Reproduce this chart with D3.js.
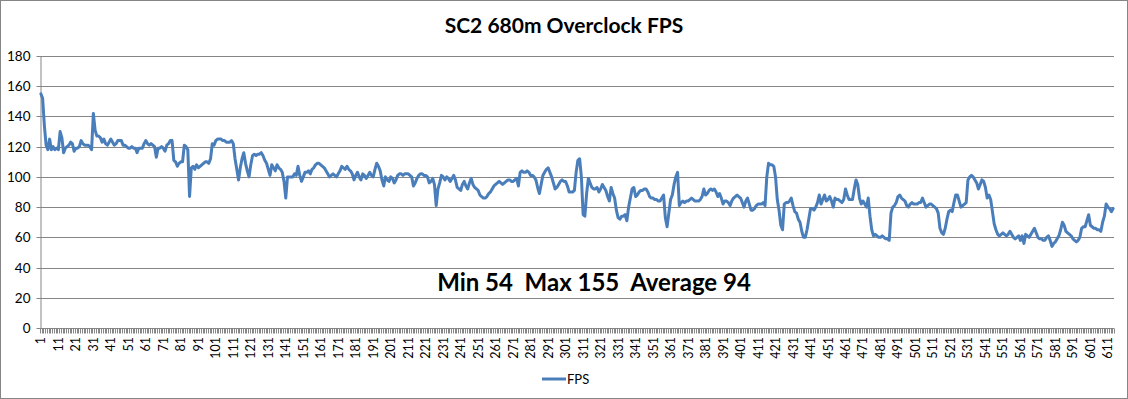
<!DOCTYPE html>
<html>
<head>
<meta charset="utf-8">
<script src="https://cdn.jsdelivr.net/npm/d3@7"></script>
<style>
  html, body { margin: 0; padding: 0; background: #fff; }
  svg { display: block; font-family: Lato, "Open Sans", sans-serif; }
</style>
</head>
<body>
<svg id="chart"></svg>
<script>
// FPS per sample
const fps = [
  155, 152, 134, 121, 118, 125, 118, 120, 118, 119,
  118, 130, 126, 116, 119, 120, 121, 123, 122, 117,
  119, 119, 120, 124, 122, 121, 121, 121, 120, 118,
  142, 131, 127, 127, 126, 123, 125, 122, 121, 123,
  125, 123, 121, 122, 124, 124, 124, 121, 121, 120,
  119, 119, 120, 119, 119, 116, 119, 119, 119, 122,
  124, 122, 121, 122, 121, 120, 113, 119, 119, 120,
  119, 117, 121, 122, 124, 124, 111, 110, 107, 109,
  110, 110, 121, 120, 118, 87, 106, 107, 105, 108,
  106, 107, 108, 109, 110, 110, 109, 112, 122, 121,
  124, 125, 125, 125, 124, 124, 123, 123, 123, 124,
  122, 112, 105, 98, 106, 112, 116, 109, 104, 100,
  108, 114, 115, 114, 115, 115, 116, 114, 111, 109,
  105, 101, 108, 106, 104, 108, 106, 105, 103, 97,
  86, 100, 100, 100, 100, 102, 101, 107, 101, 97,
  100, 103, 103, 104, 102, 105, 106, 108, 109, 109,
  108, 107, 106, 104, 102, 100, 101, 102, 101, 100,
  102, 104, 107, 106, 105, 107, 105, 104, 102, 98,
  101, 103, 100, 98, 102, 101, 99, 101, 103, 101,
  100, 105, 109, 107, 104, 98, 94, 100, 98, 97,
  100, 99, 96, 98, 101, 102, 102, 101, 102, 102,
  102, 101, 100, 94, 96, 99, 101, 102, 102, 101,
  101, 100, 96, 97, 99, 95, 81, 92, 96, 101,
  100, 98, 100, 99, 97, 99, 101, 98, 93, 92,
  91, 95, 97, 94, 92, 96, 99, 95, 93, 92,
  91, 88, 87, 86, 86, 87, 89, 90, 92, 94,
  95, 96, 97, 96, 95, 96, 97, 98, 98, 97,
  97, 98, 99, 94, 103, 104, 103, 103, 104, 103,
  101, 101, 100, 98, 93, 89, 95, 101, 103, 105,
  106, 103, 100, 96, 92, 93, 95, 97, 98, 97,
  97, 94, 90, 90, 90, 91, 103, 111, 112, 100,
  75, 74, 89, 99, 96, 93, 92, 92, 93, 90,
  92, 95, 93, 91, 87, 84, 93, 89, 86, 78,
  73, 72, 74, 74, 75, 71, 80, 86, 92, 93,
  87, 88, 90, 91, 91, 92, 92, 90, 87, 86,
  86, 85, 85, 84, 84, 86, 88, 73, 67, 76,
  85, 88, 95, 100, 103, 81, 83, 84, 83, 84,
  84, 85, 86, 85, 84, 84, 84, 85, 87, 92,
  88, 89, 91, 92, 91, 92, 90, 87, 89, 86,
  82, 84, 84, 83, 81, 84, 86, 87, 88, 87,
  86, 83, 80, 84, 86, 82, 78, 78, 79, 81,
  82, 82, 82, 83, 81, 100, 109, 108, 108, 107,
  100, 85, 78, 68, 65, 82, 83, 83, 84, 86,
  81, 77, 76, 72, 70, 64, 60, 60, 65, 72,
  79, 79, 78, 80, 83, 88, 82, 85, 88, 84,
  85, 87, 84, 80, 86, 85, 85, 84, 83, 85,
  92, 88, 85, 85, 85, 92, 98, 95, 86, 82,
  84, 82, 80, 86, 74, 65, 61, 62, 61, 60,
  60, 61, 60, 59, 59, 58, 76, 80, 81, 83,
  87, 88, 86, 85, 84, 81, 80, 82, 83, 82,
  82, 82, 83, 83, 86, 83, 80, 81, 82, 82,
  81, 80, 79, 76, 66, 63, 62, 66, 72, 77,
  78, 77, 83, 88, 88, 84, 80, 81, 82, 83,
  98, 100, 101, 100, 98, 96, 92, 95, 98, 97,
  93, 86, 88, 85, 77, 69, 65, 62, 61, 62,
  63, 62, 61, 62, 64, 62, 60, 59, 60, 61,
  58, 61, 56, 62, 61, 60, 62, 64, 66, 63,
  60, 59, 59, 58, 58, 60, 61, 58, 54, 56,
  57, 59, 61, 65, 70, 68, 64, 63, 62, 61,
  59, 58, 57, 58, 60, 66, 67, 67, 71, 75,
  68, 67, 66, 66, 65, 65, 64, 70, 74, 82,
  80, 79, 77, 79
]

const categories = fps.map((d, i) => i + 1)
const xTickLabels = categories.filter(d => d % 10 === 1)
const yTicks = [0, 20, 40, 60, 80, 100, 120, 140, 160, 180]

const title = "SC2 680m Overclock FPS"
const statsText = "Min 54  Max 155  Average 94"
const seriesName = "FPS"

const width = 1128, height = 399
const margin = {top: 56, right: 14, bottom: 71, left: 40}
const grey = "#868686", blue = "#4A7EBB"

const svg = d3.select("#chart")
  .attr("width", width)
  .attr("height", height)

svg.append("rect")
  .attr("x", 0.5).attr("y", 0.5)
  .attr("width", width - 1).attr("height", height - 1)
  .attr("fill", "#fff")
  .attr("stroke", grey)

const x = d3.scaleBand()
  .domain(categories)
  .range([margin.left, width - margin.right])

const y = d3.scaleLinear()
  .domain([0, 180])
  .range([height - margin.bottom, margin.top])

const cx = d => x(d) + x.bandwidth() / 2

// gridlines
svg.append("g")
  .selectAll("line")
  .data(yTicks.filter(d => d > 0))
  .join("line")
  .attr("x1", margin.left).attr("x2", width - margin.right)
  .attr("y1", d => Math.round(y(d)) + 0.5).attr("y2", d => Math.round(y(d)) + 0.5)
  .attr("stroke", grey)

// y axis
const yAxis = svg.append("g")
  .attr("transform", `translate(${margin.left + 0.5},0)`)
  .call(d3.axisLeft(y).tickValues(yTicks).tickSize(4).tickPadding(6).tickSizeOuter(0))
yAxis.select(".domain").attr("stroke", grey)
yAxis.selectAll(".tick line").attr("stroke", grey)
yAxis.selectAll(".tick").attr("transform", d => `translate(0,${Math.round(y(d)) + 0.5})`)
yAxis.selectAll("text").attr("font-size", 13.5).attr("fill", "#000")
  .attr("font-family", "Lato, sans-serif")

// x axis: small ticks at every category boundary
const x0 = height - margin.bottom
svg.append("g")
  .selectAll("line")
  .data(categories.concat([null]))
  .join("line")
  .attr("x1", d => d === null ? Math.round(x.range()[1]) + 0.5 : Math.round(x(d)) + 0.5)
  .attr("x2", d => d === null ? Math.round(x.range()[1]) + 0.5 : Math.round(x(d)) + 0.5)
  .attr("y1", Math.round(x0) + 0.5)
  .attr("y2", Math.round(x0) + 5.5)
  .attr("stroke", grey)

svg.append("line")
  .attr("x1", margin.left).attr("x2", width - margin.right)
  .attr("y1", Math.round(x0) + 0.5).attr("y2", Math.round(x0) + 0.5)
  .attr("stroke", grey)

// x labels, rotated
const xAxis = svg.append("g")
  .attr("transform", `translate(0,${x0})`)
  .call(d3.axisBottom(x).tickValues(xTickLabels).tickSize(0))
xAxis.select(".domain").remove()
xAxis.selectAll("text")
  .attr("transform", "rotate(-90)")
  .attr("text-anchor", "end")
  .attr("x", -9)
  .attr("y", 0)
  .attr("dy", "0.36em")
  .attr("font-size", 12.5)
  .attr("font-family", "Lato, sans-serif")
  .attr("fill", "#000")

// series line
const line = d3.line()
  .x((d, i) => cx(categories[i]))
  .y(d => y(d))

svg.append("path")
  .datum(fps)
  .attr("d", line)
  .attr("fill", "none")
  .attr("stroke", blue)
  .attr("stroke-width", 3)
  .attr("stroke-linejoin", "round")
  .attr("stroke-linecap", "round")

// title
svg.append("text")
  .attr("x", width / 2).attr("y", 33)
  .attr("text-anchor", "middle")
  .attr("font-size", 21)
  .attr("font-weight", "bold")
  .text(title)

// stats
svg.append("text")
  .attr("x", 594).attr("y", 291)
  .attr("text-anchor", "middle")
  .attr("font-size", 24)
  .attr("font-weight", "bold")
  .style("white-space", "pre")
  .text(statsText)

// legend
const lg = svg.append("g").attr("transform", "translate(542,379)")
lg.append("line")
  .attr("x1", 0).attr("x2", 24)
  .attr("stroke", blue).attr("stroke-width", 3)
lg.append("text")
  .attr("x", 25).attr("y", 0).attr("dy", "0.35em")
  .attr("font-size", 13)
  .text(seriesName)
</script>
</body>
</html>
